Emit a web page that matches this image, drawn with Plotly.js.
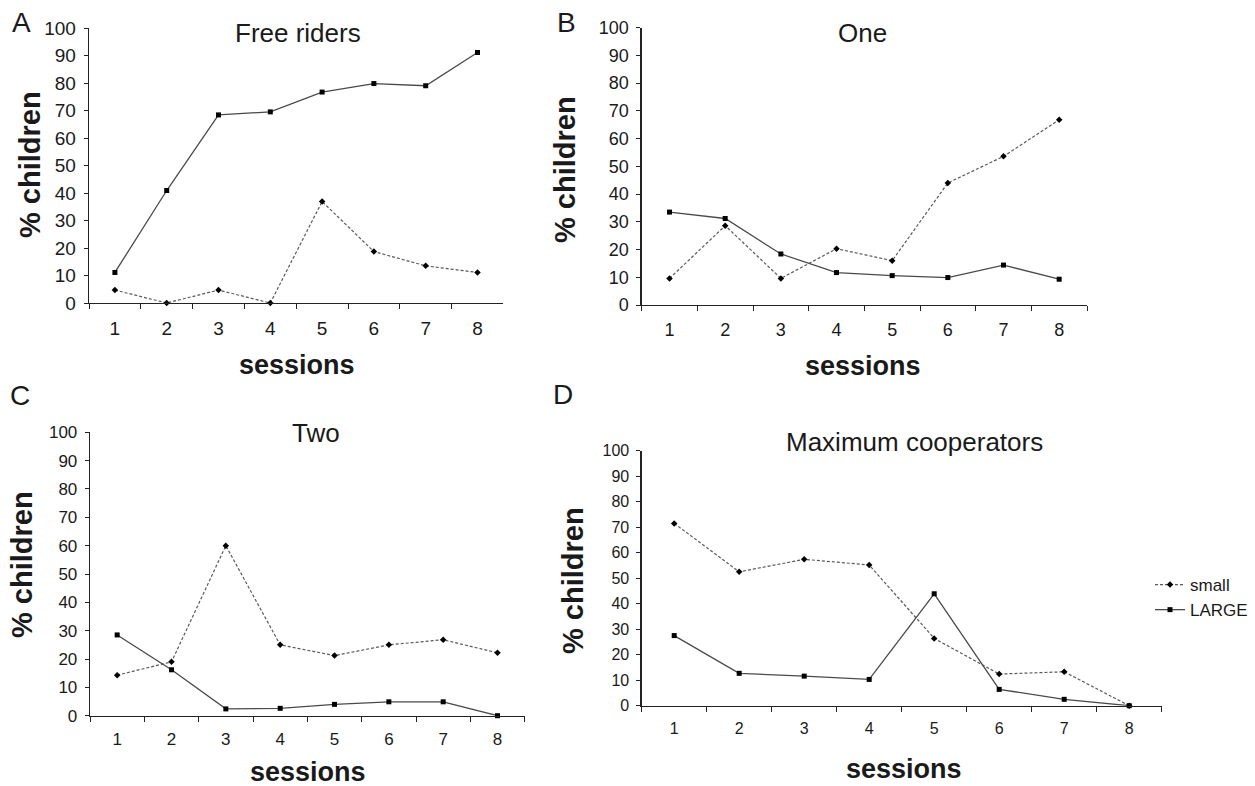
<!DOCTYPE html>
<html>
<head>
<meta charset="utf-8">
<script src="https://cdn.plot.ly/plotly-3.0.1.min.js"></script>
<style>
html, body { margin: 0; padding: 0; background: #fff; }
#chart { width: 1255px; height: 786px; }
</style>
</head>
<body>
<div id="chart"></div>
<script>
// ---- data ----
const sessions = ['1', '2', '3', '4', '5', '6', '7', '8'];
const seriesNames = ['small', 'LARGE'];
const panelTitles = ['Free riders', 'One', 'Two', 'Maximum cooperators'];
const panelLetters = ['A', 'B', 'C', 'D'];
const yTicks = [0, 10, 20, 30, 40, 50, 60, 70, 80, 90, 100];

const freeSmall = [4.7, 0, 4.7, 0, 36.9, 18.7, 13.5, 11.1];
const freeLarge = [11.1, 40.9, 68.4, 69.5, 76.7, 79.8, 79.0, 91.1];
const oneSmall = [9.6, 28.6, 9.6, 20.3, 16.0, 44.0, 53.6, 66.8];
const oneLarge = [33.5, 31.2, 18.4, 11.7, 10.6, 9.9, 14.4, 9.3];
const twoSmall = [14.3, 19.0, 60.0, 25.0, 21.2, 25.0, 26.8, 22.2];
const twoLarge = [28.5, 16.2, 2.4, 2.6, 4.0, 4.9, 4.9, 0];
const maxSmall = [71.5, 52.5, 57.4, 55.2, 26.4, 12.4, 13.3, 0];
const maxLarge = [27.5, 12.7, 11.6, 10.3, 43.9, 6.4, 2.5, 0];

const smallSeries = [freeSmall, oneSmall, twoSmall, maxSmall];
const largeSeries = [freeLarge, oneLarge, twoLarge, maxLarge];

// ---- layout geometry (pixels in the 1255x786 page) ----
const W = 1255, H = 786;
const FONT = '"Liberation Sans", Arial, Helvetica, sans-serif';
const INK = '#1a1a1a';
const panels = [
  { x0: 89,    x1: 503.4,  yTop: 28,    yBot: 303,   tick: 19, title: [298, 33, 26],  xt: [297, 365], yt: [30, 165],  let: [21, 23] },
  { x0: 641.7, x1: 1087,   yTop: 27.7,  yBot: 305,   tick: 18, title: [862, 33, 26],  xt: [863, 366], yt: [565, 170], let: [566, 23] },
  { x0: 90,    x1: 524.7,  yTop: 432.3, yBot: 715.7, tick: 17, title: [316, 433, 26], xt: [308, 772], yt: [22, 565],  let: [20, 395] },
  { x0: 641.7, x1: 1161.7, yTop: 450.7, yBot: 705.7, tick: 16, title: [914, 442, 26], xt: [904, 769], yt: [573, 581], let: [563, 394] }
];

const px = v => v / W;
const py = v => 1 - v / H;

const data = [];
const layout = {
  width: W, height: H,
  margin: { l: 0, r: 0, t: 0, b: 0 },
  paper_bgcolor: '#ffffff',
  plot_bgcolor: '#ffffff',
  font: { family: FONT, color: INK, size: 16 },
  showlegend: true,
  legend: {
    x: px(1150), y: py(567), xanchor: 'left', yanchor: 'top',
    font: { family: FONT, size: 17, color: INK },
    bgcolor: 'rgba(0,0,0,0)', borderwidth: 0,
    itemwidth: 30, tracegroupgap: 2, traceorder: 'normal'
  },
  annotations: []
};

panels.forEach((p, i) => {
  const n = i + 1;
  const xa = 'x' + (n === 1 ? '' : n), ya = 'y' + (n === 1 ? '' : n);
  const xk = 'xaxis' + (n === 1 ? '' : n), yk = 'yaxis' + (n === 1 ? '' : n);

  data.push({
    x: sessions, y: smallSeries[i], xaxis: xa, yaxis: ya,
    name: seriesNames[0], legendgroup: 'small', showlegend: i === 3,
    type: 'scatter', mode: 'lines+markers', cliponaxis: false,
    line: { color: '#5a5a5a', width: 1.2, dash: '3px,2px' },
    marker: { symbol: 'diamond', size: 5, color: '#000000' }
  });
  data.push({
    x: sessions, y: largeSeries[i], xaxis: xa, yaxis: ya,
    name: seriesNames[1], legendgroup: 'large', showlegend: i === 3,
    type: 'scatter', mode: 'lines+markers', cliponaxis: false,
    line: { color: '#4a4a4a', width: 1.3 },
    marker: { symbol: 'square', size: 5, color: '#000000' }
  });

  layout[xk] = {
    domain: [px(p.x0), px(p.x1)], anchor: ya,
    type: 'category', range: [-0.5, 7.5], fixedrange: true,
    showgrid: false, zeroline: false,
    showline: true, linecolor: '#222222', linewidth: 1.3,
    ticks: 'outside', tickson: 'boundaries', ticklen: 5, tickcolor: '#222222', tickwidth: 1,
    tickfont: { family: FONT, size: p.tick, color: INK },
    ticklabelstandoff: 8
  };
  layout[yk] = {
    domain: [py(p.yBot), py(p.yTop)], anchor: xa,
    range: [0, 100], tickvals: yTicks, fixedrange: true,
    showgrid: false, zeroline: false,
    showline: true, linecolor: '#222222', linewidth: 1.3,
    ticks: 'outside', ticklen: 4, tickcolor: '#222222', tickwidth: 1,
    tickfont: { family: FONT, size: p.tick, color: INK },
    ticklabelstandoff: 4
  };

  const A = layout.annotations;
  A.push({ text: panelTitles[i], xref: 'paper', yref: 'paper', x: px(p.title[0]), y: py(p.title[1]),
           xanchor: 'center', yanchor: 'middle', showarrow: false,
           font: { family: FONT, size: p.title[2], color: INK } });
  A.push({ text: '<b>sessions</b>', xref: 'paper', yref: 'paper', x: px(p.xt[0]), y: py(p.xt[1]),
           xanchor: 'center', yanchor: 'middle', showarrow: false,
           font: { family: FONT, size: 27, color: INK } });
  A.push({ text: '<b>% children</b>', xref: 'paper', yref: 'paper', x: px(p.yt[0]), y: py(p.yt[1]),
           xanchor: 'center', yanchor: 'middle', showarrow: false, textangle: -90,
           font: { family: FONT, size: 29, color: INK } });
  A.push({ text: panelLetters[i], xref: 'paper', yref: 'paper', x: px(p.let[0]), y: py(p.let[1]),
           xanchor: 'center', yanchor: 'middle', showarrow: false,
           font: { family: FONT, size: 28, color: INK } });
});

Plotly.newPlot('chart', data, layout, { staticPlot: true, displayModeBar: false });
</script>
</body>
</html>
